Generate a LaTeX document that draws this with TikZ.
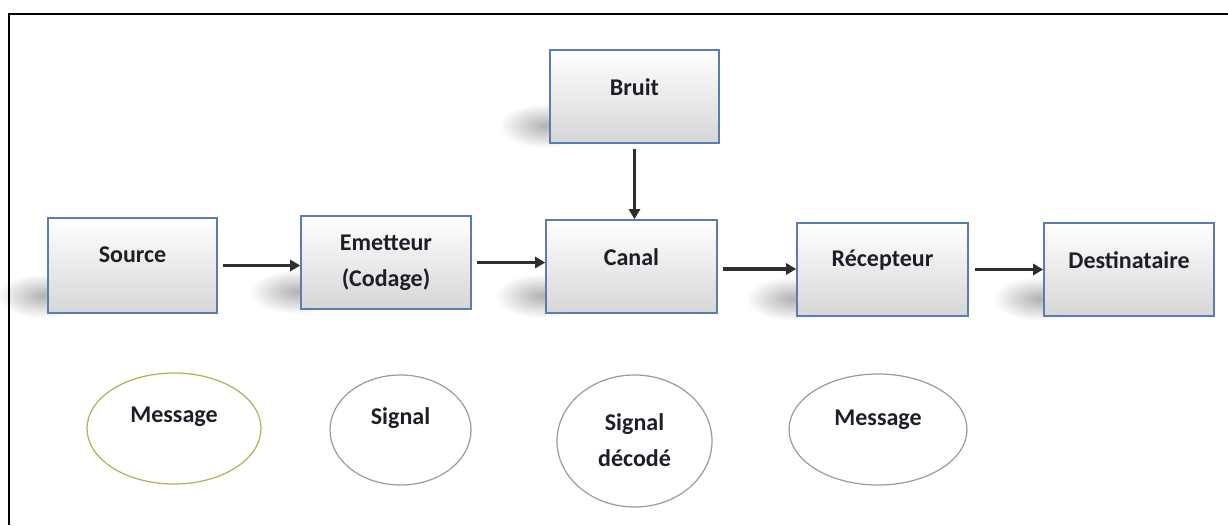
\documentclass[tikz,border=0pt]{standalone}
\usepackage{fontspec}
\setmainfont{Carlito}
\usetikzlibrary{arrows.meta,shapes.geometric,fadings,backgrounds}
\definecolor{boxedge}{HTML}{5A7DB0}
\definecolor{boxfoot}{HTML}{D6D6D6}
\definecolor{ovalgrey}{HTML}{9A9A9A}
\definecolor{ovalgreen}{HTML}{9BBB59}
\definecolor{inkdark}{HTML}{1E1E28}
\definecolor{arrowdark}{HTML}{2E2E2E}
\tikzfading[name=softblob, inner color=transparent!45, outer color=transparent!100]
\tikzset{
  blocktext/.style={font=\bfseries\fontsize{24}{36}\selectfont, text=inkdark, align=center, inner sep=0pt},
  stagebox/.style={draw=boxedge, line width=1.6pt, rectangle,
    top color=white, bottom color=boxfoot, minimum width=170pt, minimum height=93pt},
  castshadow/.style={fill=black!55, path fading=softblob},
  oval/.style={draw=ovalgrey, line width=1.2pt, ellipse, inner sep=0pt},
  flow/.style={draw=arrowdark, line width=3.2pt, -{Triangle[length=10pt,width=11pt]}},
  frameline/.style={line width=2.2pt, black}
}
\newcommand{\boxshadow}[1]{%
  \fill[castshadow] ([xshift=-50pt,yshift=-4pt]#1.south west) rectangle ([xshift=42pt,yshift=40pt]#1.south west);}
\begin{document}
\begin{tikzpicture}[x=1pt,y=-1pt]
\useasboundingbox (0,0) rectangle (1228,525);

% partial frame: top and left edges only
\coordinate (ftl) at (9,14);
\coordinate (ftr) at (1228,14);
\coordinate (fbl) at (9,525);
\draw[frameline] (ftr) -- (ftl) -- (fbl);

% chain of blocks
\node[stagebox, minimum width=169pt, minimum height=95pt,
  label={[blocktext, name=srct, yshift=11pt]center:Source}] (src) at (132.5,265.5) {};
\node[stagebox,
  label={[blocktext, name=emtt]center:Emetteur\\(Codage)}] (emt) at (386,262.5) {};
\node[stagebox, minimum width=171pt,
  label={[blocktext, name=cant, yshift=9.5pt]center:Canal}] (can) at (631.5,266.5) {};
\node[stagebox, minimum width=169pt,
  label={[blocktext, name=brut, yshift=9.5pt]center:Bruit}] (bru) at (634.5,96.5) {};
\node[stagebox, minimum width=171pt,
  label={[blocktext, name=rect, yshift=9.5pt]center:Récepteur}] (rec) at (882.5,269.5) {};
\node[stagebox,
  label={[blocktext, name=dstt, yshift=9.5pt]center:Destinataire}] (dst) at (1129,269.5) {};

% soft shadows cast to the lower left of each block
\begin{scope}[on background layer]
  \fill[white] (0,0) rectangle (1228,525);
  \boxshadow{src}
  \boxshadow{emt}
  \boxshadow{can}
  \boxshadow{bru}
  \boxshadow{rec}
  \boxshadow{dst}
\end{scope}

% connectors
\draw[flow] ([xshift=5pt]src.east) -- (src.east -| emt.west);
\draw[flow] ([xshift=5pt]emt.east) -- (emt.east -| can.west);
\draw[flow] ([xshift=5pt,yshift=-2.5pt]can.east) -- ([yshift=-2.5pt]can.east -| rec.west);
\draw[flow] ([xshift=6pt]rec.east) -- (rec.east -| dst.west);
\draw[flow] ([yshift=-5pt]bru.south) -- (bru.south |- can.north);

% what travels at each stage
\node[oval, draw=ovalgreen, minimum width=174pt, minimum height=111pt,
  label={[blocktext, name=msg1t, yshift=12pt]center:Message}] (msg1) at (174,428.5) {};
\node[oval, minimum width=141pt, minimum height=110pt,
  label={[blocktext, name=sigt, yshift=12pt]center:Signal}] (sig) at (400.5,430) {};
\node[oval, minimum width=155pt, minimum height=132pt,
  label={[blocktext, name=sigdt, yshift=1pt]center:Signal\\décodé}] (sigd) at (634.5,441) {};
\node[oval, minimum width=178pt, minimum height=111pt,
  label={[blocktext, name=msg2t, yshift=10pt]center:Message}] (msg2) at (878,429.5) {};
\end{tikzpicture}
\end{document}
